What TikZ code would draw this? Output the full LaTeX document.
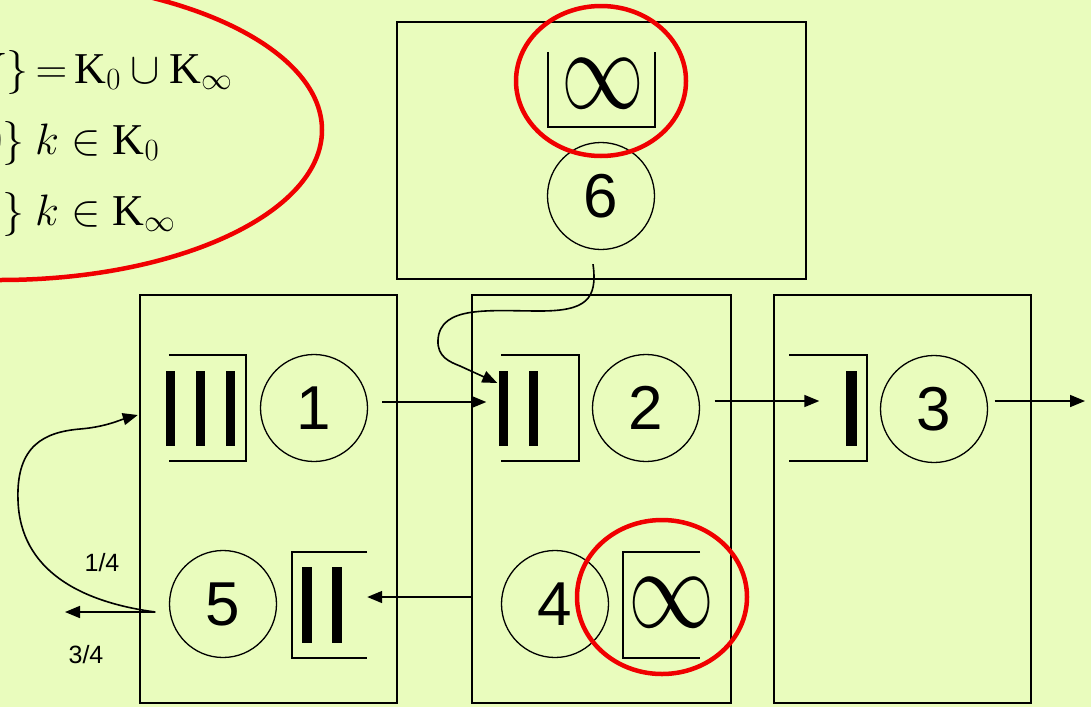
\RequirePackage{fix-cm}
\documentclass[tikz,border=0pt]{standalone}
\usepackage{fontspec}
\setmainfont{Liberation Serif}
\setsansfont{Liberation Sans}
\usetikzlibrary{arrows.meta}
\definecolor{slidebg}{RGB}{233,252,189}
\definecolor{ringred}{RGB}{240,0,0}

\begin{document}
\begin{tikzpicture}[x=1pt,y=-1pt,
    station/.style={draw, line width=1.6pt, inner sep=0pt},
    server/.style={draw, circle, line width=1.3pt, minimum size=107pt, inner sep=0pt, font=\sffamily\fontsize{62}{62}\selectfont},
    buffer/.style={inner sep=0pt, minimum width=77pt, minimum height=106pt},
    edge/.style={line width=1.6pt},
    arr/.style={line width=1.6pt, -{Triangle[length=15pt,width=12pt]}},
    ring/.style={draw=ringred, line width=4.5pt},
    prob/.style={inner sep=0pt, font=\sffamily\fontsize{25}{25}\selectfont},
    formula/.style={anchor=base west, inner sep=0pt, font=\fontsize{44}{44}\selectfont},
    infty/.style={inner sep=0pt, font=\fontsize{115}{115}\selectfont}]
    \path[use as bounding box, fill=slidebg] (0,0) rectangle (1091,707);
    \clip (0,0) rectangle (1091,707);

    % stations
    \node[station, minimum width=257pt, minimum height=408pt] (st1) at (268.5,499) {};
    \node[station, minimum width=259pt, minimum height=408pt] (st2) at (601.5,499) {};
    \node[station, minimum width=257pt, minimum height=408pt] (st3) at (902.5,499) {};
    \node[station, minimum width=409pt, minimum height=257pt] (st6) at (601.5,150.5) {};

    % servers
    \node[server] (s1) at (314,408) {1};
    \node[server] (s2) at (646,408) {2};
    \node[server] (s3) at (934,409) {3};
    \node[server] (s4) at (555,604) {4};
    \node[server] (s5) at (223,604) {5};
    \node[server] (s6) at (601,196) {6};

    % buffers, open on the arrival side
    \node[buffer] (q1) at (207.5,408) {};
    \node[buffer] (q2) at (540,408) {};
    \node[buffer] (q3) at (828,408) {};
    \node[buffer, minimum width=75pt] (q5) at (329.5,605) {};
    \node[buffer] (q4) at (661.5,605) {};
    \node[buffer, minimum width=107pt, minimum height=75pt] (q6) at (601.5,89.5) {};
    \draw[edge] (q1.north west) -- (q1.north east) -- (q1.south east) -- (q1.south west);
    \draw[edge] (q2.north west) -- (q2.north east) -- (q2.south east) -- (q2.south west);
    \draw[edge] (q3.north west) -- (q3.north east) -- (q3.south east) -- (q3.south west);
    \draw[edge] (q5.north east) -- (q5.north west) -- (q5.south west) -- (q5.south east);
    \draw[edge] (q4.north east) -- (q4.north west) -- (q4.south west) -- (q4.south east);
    \draw[edge] (q6.north west) -- (q6.south west) -- (q6.south east) -- (q6.north east);

    % customers waiting
    \foreach \dx in {-37,-7,23}
        \fill ([shift={(\dx-4.75,-37.5)}]q1.center) rectangle ++(9.5,75);
    \foreach \dx in {-36.5,-6.5}
        \fill ([shift={(\dx-4.75,-37.5)}]q2.center) rectangle ++(9.5,75);
    \fill ([shift={(18,-37.5)}]q3.center) rectangle ++(11,75);
    \foreach \dx in {-22.5,7.5}
        \fill ([shift={(\dx-5,-38)}]q5.center) rectangle ++(10,76);
    \node[infty] (inf4) at (672,603) {\scalebox{0.75}[1]{$\infty$}};
    \node[infty] (inf6) at (603,84) {\scalebox{0.72}[1]{$\infty$}};

    % flows
    \draw[arr] ([shift={(14,-6)}]s1.east) -- ([shift={(-15,-6)}]q2.west);
    \draw[arr] ([shift={(14.5,-7)}]s2.east) -- ([shift={(30,-7)}]q3.west);
    \coordinate (out) at (1085,401);
    \draw[arr] ([shift={(6.5,-8)}]s3.east) -- (out);
    \coordinate (into5) at ([shift={(0,-8)}]q5.east);
    \draw[arr] (into5 -| st2.west) -- (into5);
    \coordinate (split) at ([shift={(-13.5,8)}]s5.west);
    \coordinate (leave) at (65,612);
    \draw[arr] (split) -- (leave);
    \draw[arr] (split) .. controls (80,602) and (20,570) .. (18,500)
        .. controls (16,445) and (45,432) .. (80,429)
        .. controls (105,427) and (120,420) .. ([shift={(-31,7)}]q1.west);
    \draw[arr] ([shift={(-8,14)}]s6.south) .. controls (598,300) and (585,311) .. (540,311)
        .. controls (490,311) and (440,305) .. (438,340)
        .. controls (437,357) and (450,362) .. (460,366) -- ([shift={(-4,-25)}]q2.west);
    \node[prob] (p14) at (102,563) {1/4};
    \node[prob] (p34) at (86,655) {3/4};

    % sets of stations
    \node[formula] (f1) at (6,83) {\llap{$N$}$\}\mskip-2mu=\mskip-2mu\mathrm{K}_0\cup\mathrm{K}_\infty$};
    \node[formula] (f2) at (2,154) {\llap{$0$}$\}\ k\in\mathrm{K}_0$};
    \node[formula] (f3) at (2,225) {\llap{$\infty$}$\}\ k\in\mathrm{K}_\infty$};

    % highlights
    \draw[ring] (0,130) ellipse [x radius=322, y radius=150];
    \draw[ring] (601,81) ellipse [x radius=85, y radius=75];
    \draw[ring] (662,597) ellipse [x radius=85, y radius=77];
\end{tikzpicture}
\end{document}
